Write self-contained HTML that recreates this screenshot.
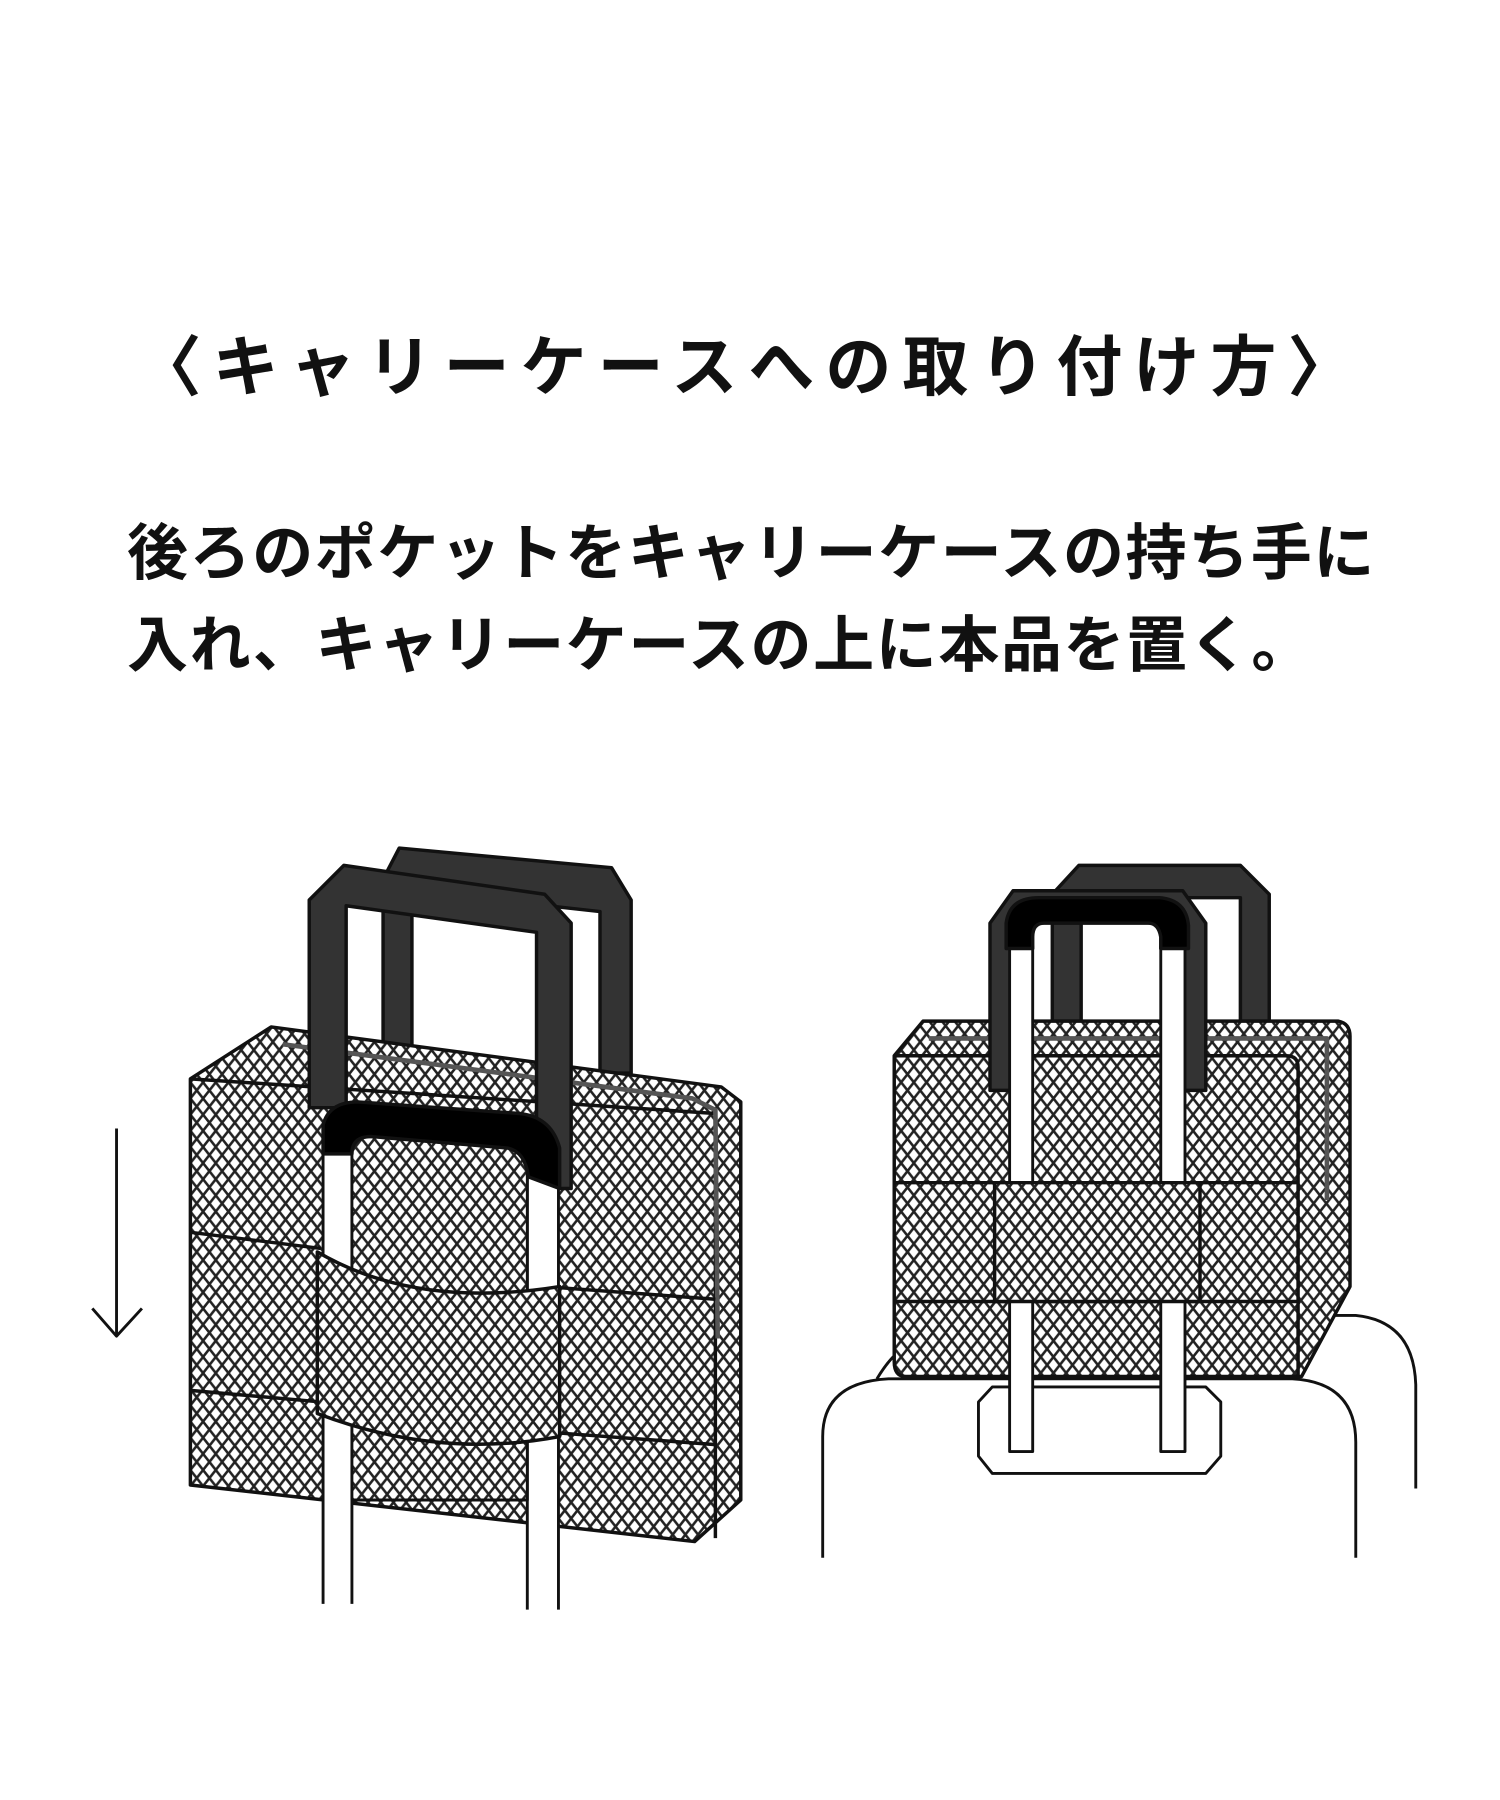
<!DOCTYPE html>
<html><head><meta charset="utf-8"><style>
html,body{margin:0;padding:0;background:#fff;}
body{width:1500px;height:1800px;position:relative;overflow:hidden;font-family:"Liberation Sans","Noto Sans CJK JP",sans-serif;color:#111;}
.t{position:absolute;left:0;width:1500px;text-align:center;top:322px;font-size:66px;font-weight:bold;letter-spacing:11px;line-height:90px;}
.b{position:absolute;left:127px;font-size:61px;font-weight:bold;letter-spacing:1.6px;line-height:70px;white-space:nowrap;}
svg{position:absolute;left:0;top:0;}
</style></head><body>
<div class="t">〈キャリーケースへの取り付け方〉</div>
<div class="b" style="top:518px">後ろのポケットをキャリーケースの持ち手に</div>
<div class="b" style="top:610px">入れ、キャリーケースの上に本品を置く。</div>
<svg width="1500" height="1800" viewBox="0 0 1300 1560">
<defs>
<pattern id="p" width="11" height="14" patternUnits="userSpaceOnUse">
<rect width="11" height="14" fill="#fff"/>
<path d="M0,0 L11,14 M11,0 L0,14" stroke="#222" stroke-width="2.2"/>
</pattern>
</defs>
<g stroke="#111" stroke-width="3" stroke-linejoin="round">
<line x1="101" y1="978" x2="101" y2="1158" stroke-width="2.5"/>
<polyline points="80,1134 101,1158 123,1134" fill="none" stroke-width="2.5"/>

<path d="M332,930 L332,762 L346,735 L530,752 L547,780 L547,930 L520,930 L520,790 L357,772 L357,930 Z" fill="#333"/>
<path d="M165,935 L235,890 L625,942 L642,955 L642,1300 L602,1336 L165,1287 Z" fill="url(#p)"/>
<path d="M165,935 L620,965 L620,1333" fill="none"/>
<path d="M245,905 L600,952 L620,962 L622,1160" fill="none" stroke="#555" stroke-width="4"/>
<path d="M165,1068 L278,1082 M485,1116 L620,1126 M165,1205 L278,1215 M485,1242 L620,1252" fill="none"/>
<path d="M268,960 L268,780 L298,750 L472,775 L495,800 L495,1030 L465,1030 L465,808 L300,785 L300,960 Z" fill="#333"/>
<path d="M280,1390 L280,1000 L305,1000 L305,1390" fill="#fff" stroke-width="2.5"/>
<path d="M457,1395 L457,1010 L484,1010 L484,1395" fill="#fff" stroke-width="2.5"/>
<path d="M305,1120 L305,1000 Q305,985 322,985 L440,995 Q457,998 457,1020 L457,1300 L305,1300 Z" fill="url(#p)" stroke-width="2.5"/>
<path d="M280,1000 L280,975 Q285,955 310,955 L450,965 Q478,968 485,995 L485,1030 L458,1020 Q455,998 440,995 L322,985 Q305,985 305,1000 Z" fill="#000"/>
<path d="M275,1085 Q360,1135 485,1115 L485,1245 Q380,1265 275,1225 Z" fill="url(#p)"/>

<path d="M713,1350 L713,1245 Q713,1198 770,1195 L1120,1195 Q1175,1198 1175,1250 L1175,1350" fill="none" stroke-width="2.5"/>
<path d="M1130,1140 L1175,1140 Q1225,1145 1227,1200 L1227,1290" fill="none" stroke-width="2.5"/>
<path d="M760,1195 Q775,1170 790,1165" fill="none" stroke-width="2.5"/>
<path d="M848,1215 L860,1202 L1045,1202 L1058,1215 L1058,1262 L1045,1277 L860,1277 L848,1262 Z" fill="#fff" stroke-width="2.5"/>
<path d="M912,885 L912,775 L935,750 L1075,750 L1100,775 L1100,885 L1075,885 L1075,778 L937,778 L937,885 Z" fill="#333"/>
<path d="M800,885 L1160,885 Q1170,887 1170,898 L1170,1115 L1128,1193 L785,1193 Q775,1193 775,1180 L775,915 Z" fill="url(#p)"/>
<path d="M775,915 L1115,915 Q1125,915 1125,925 L1125,1193" fill="none"/>
<path d="M805,900 L1150,900 L1150,1040" fill="none" stroke="#555" stroke-width="4"/>
<path d="M775,1025 L1125,1025 M775,1128 L1125,1128" fill="none"/>
<path d="M858,945 L858,800 L878,772 L1025,772 L1045,800 L1045,945 L1020,945 L1020,800 L883,800 L883,945 Z" fill="#333"/>
<rect x="875" y="820" width="20" height="438" fill="#fff" stroke-width="2.5"/>
<rect x="1006" y="820" width="21" height="438" fill="#fff" stroke-width="2.5"/>
<path d="M872,822 L872,800 Q875,778 900,778 L1005,778 Q1028,780 1030,802 L1030,822 L1006,822 L1006,812 Q1004,800 995,800 L905,800 Q895,800 895,812 L895,822 Z" fill="#000"/>
<rect x="862" y="1025" width="178" height="103" fill="url(#p)"/>
</g>
</svg>
</body></html>
